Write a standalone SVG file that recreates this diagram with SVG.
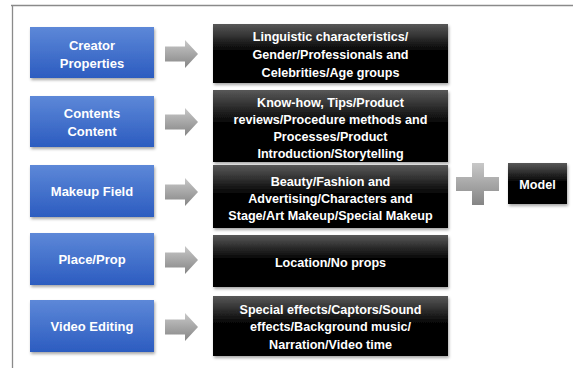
<svg xmlns="http://www.w3.org/2000/svg" width="573" height="368" viewBox="0 0 573 368">
<defs>
<linearGradient id="gBlue" x1="0" y1="0" x2="0" y2="1">
<stop offset="0" stop-color="#5d88d8"/>
<stop offset="1" stop-color="#2c5cc0"/>
</linearGradient>
<linearGradient id="gBlack" x1="0" y1="0" x2="0" y2="1">
<stop offset="0" stop-color="#585858"/>
<stop offset="0.45" stop-color="#050505"/>
<stop offset="1" stop-color="#000000"/>
</linearGradient>
<linearGradient id="gGray" x1="0" y1="0" x2="0" y2="1">
<stop offset="0" stop-color="#c8c8c8"/>
<stop offset="1" stop-color="#858585"/>
</linearGradient>
<filter id="sh" x="-10%" y="-10%" width="120%" height="130%">
<feDropShadow dx="1" dy="2" stdDeviation="1.5" flood-color="#000" flood-opacity="0.35"/>
</filter>
</defs>
<style>
.frame{stroke:#8a8a8a;stroke-width:1.3;fill:none}
.blue{fill:url(#gBlue);filter:url(#sh)}
.black{fill:url(#gBlack);filter:url(#sh)}
.arr{fill:url(#gGray)}
text{font-family:"Liberation Sans",Arial,sans-serif;font-weight:bold;fill:#fff;text-anchor:middle}
.bt{font-size:13px}
.kt{font-size:12.6px}
</style>
<rect x="0" y="0" width="573" height="368" fill="#fff"/>
<path class="frame" d="M11,5.5 H573 M12.5,5 V368"/>

<g id="creator"><rect class="blue" x="30" y="27" width="124" height="51"/><text class="bt" x="92" y="49.5">Creator</text><text class="bt" x="92" y="67.5">Properties</text></g>
<g id="contents"><rect class="blue" x="30" y="96" width="124" height="51"/><text class="bt" x="92" y="117.5">Contents</text><text class="bt" x="92" y="135.5">Content</text></g>
<g id="makeup"><rect class="blue" x="30" y="165" width="124" height="52"/><text class="bt" x="92" y="195.5">Makeup Field</text></g>
<g id="place"><rect class="blue" x="30" y="233" width="124" height="52"/><text class="bt" x="92" y="263.5">Place/Prop</text></g>
<g id="video"><rect class="blue" x="30" y="300" width="124" height="52"/><text class="bt" x="92" y="330.5">Video Editing</text></g>

<g id="creator-detail"><rect class="black" x="213" y="24" width="235" height="59"/><text class="kt" x="330.5" y="41">Linguistic characteristics/</text><text class="kt" x="330.5" y="58.5">Gender/Professionals and</text><text class="kt" x="330.5" y="76.5">Celebrities/Age groups</text></g>
<g id="contents-detail"><rect class="black" x="213" y="90" width="235" height="72"/><text class="kt" x="330.5" y="106.5">Know-how, Tips/Product</text><text class="kt" x="330.5" y="123.5">reviews/Procedure methods and</text><text class="kt" x="330.5" y="140.5">Processes/Product</text><text class="kt" x="330.5" y="157.5">Introduction/Storytelling</text></g>
<g id="makeup-detail"><rect class="black" x="213" y="165" width="235" height="63"/><text class="kt" x="330.5" y="186">Beauty/Fashion and</text><text class="kt" x="330.5" y="203">Advertising/Characters and</text><text class="kt" x="330.5" y="220">Stage/Art Makeup/Special Makeup</text></g>
<g id="place-detail"><rect class="black" x="213" y="235" width="235" height="52"/><text class="kt" x="330.5" y="266.5">Location/No props</text></g>
<g id="video-detail"><rect class="black" x="213" y="296" width="235" height="60"/><text class="kt" x="330.5" y="313.5">Special effects/Captors/Sound</text><text class="kt" x="330.5" y="331">effects/Background music/</text><text class="kt" x="330.5" y="348.5">Narration/Video time</text></g>

<g id="model"><rect class="black" x="508" y="163" width="59" height="41"/><text class="kt" x="537.5" y="188.5">Model</text></g>

<g id="connectors">
<path class="arr" d="M165,46.5 H185 V40 L198,54 L185,68 V61.5 H165 Z"/>
<path class="arr" d="M165,114.5 H185 V108 L198,122 L185,136 V129.5 H165 Z"/>
<path class="arr" d="M165,184.5 H185 V178 L198,192 L185,206 V199.5 H165 Z"/>
<path class="arr" d="M165,252.5 H185 V246 L198,260 L185,274 V267.5 H165 Z"/>
<path class="arr" d="M165,319.5 H185 V313 L198,327 L185,341 V334.5 H165 Z"/>
<path class="arr" d="M472,163 H484 V177 H499 V191 H484 V205 H472 V191 H456 V177 H472 Z"/>
</g>
</svg>
